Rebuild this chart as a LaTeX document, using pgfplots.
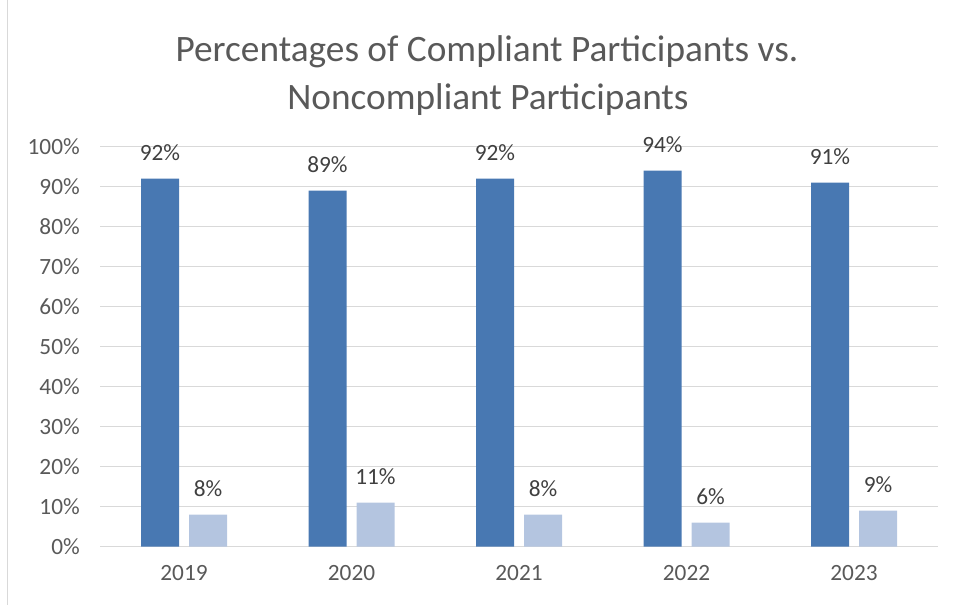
\documentclass[border=0pt]{standalone}
\usepackage{pgfplots}
\pgfplotsset{compat=1.18}
\usepackage{fontspec}
\setmainfont{Carlito}
\definecolor{darkbar}{HTML}{4878B2}
\definecolor{lightbar}{HTML}{B4C5E0}
\definecolor{gridc}{HTML}{D9D9D9}
\definecolor{txt}{HTML}{595959}
\definecolor{lbl}{HTML}{404040}
\begin{document}
\begin{tikzpicture}[x=1pt,y=1pt]
\path[use as bounding box] (0,0) rectangle (956,605);
\draw[gridc, line width=1pt] (7,0) -- (7,605);
\node[font=\fontsize{37.3}{44}\selectfont, color=txt, anchor=base] at (487,543) {Percentages of Compliant Participants vs.};
\node[font=\fontsize{37.3}{44}\selectfont, color=txt, anchor=base] at (488,495) {Noncompliant Participants};
\begin{axis}[
  at={(100.25pt,58.3pt)}, anchor=south west,
  scale only axis, width=837.5pt, height=400pt,
  ybar=10pt, bar width=38pt,
  xmin=-0.5, xmax=4.5, ymin=0, ymax=100,
  xtick={0,...,4}, xticklabels={2019,2020,2021,2022,2023},
  ytick={0,10,...,100},
  yticklabel={\pgfmathprintnumber{\tick}\%},
  /pgf/number format/assume math mode=true,
  ymajorgrids, grid style={gridc, line width=1.3pt},
  axis x line*=bottom, axis y line*=left,
  y axis line style={draw=none},
  x axis line style={gridc, line width=1.3pt, -},
  major tick length=0pt, tick style={draw=none},
  yticklabel style={font=\fontsize{23.3}{28}\selectfont, color=txt, xshift=-17pt},
  xticklabel style={font=\fontsize{23.3}{28}\selectfont, color=txt, yshift=-15pt},
  nodes near coords={\pgfmathprintnumber{\pgfplotspointmeta}\%},
  nodes near coords style={font=\fontsize{23.3}{28}\selectfont, color=lbl, anchor=base, yshift=18pt},
  clip=false,
]
\addplot[fill=darkbar, draw=none] coordinates {(0,92) (1,89) (2,92) (3,94) (4,91)};
\addplot[fill=lightbar, draw=none] coordinates {(0,8) (1,11) (2,8) (3,6) (4,9)};
\end{axis}
\end{tikzpicture}
\end{document}
